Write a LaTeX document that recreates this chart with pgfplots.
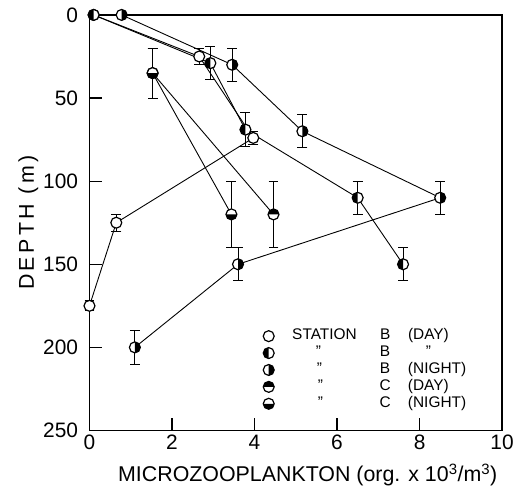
\documentclass[border=0pt]{standalone}
\usepackage{pgfplots}
\pgfplotsset{compat=1.18}
\usepackage{fontspec}
\setmainfont{Liberation Sans}

\newcommand\halfmark[2]{%
  \pgfpathcircle{\pgfpointorigin}{\pgfplotmarksize}%
  \pgfsetfillcolor{white}\pgfusepath{fill}%
  \pgfpathmoveto{\pgfpointpolar{#1}{\pgfplotmarksize}}%
  \pgfpatharc{#1}{#2}{\pgfplotmarksize}%
  \pgfpathclose
  \pgfsetfillcolor{black}\pgfusepath{fill}%
  \pgfpathcircle{\pgfpointorigin}{\pgfplotmarksize}%
  \pgfusepath{stroke}}
\pgfdeclareplotmark{opn}{%
  \pgfpathcircle{\pgfpointorigin}{\pgfplotmarksize}%
  \pgfsetfillcolor{white}\pgfusepath{fill,stroke}}
\pgfdeclareplotmark{hleft}{\halfmark{90}{270}}
\pgfdeclareplotmark{hright}{\halfmark{-90}{90}}
\pgfdeclareplotmark{htop}{\halfmark{0}{180}}
\pgfdeclareplotmark{hbot}{\halfmark{180}{360}}

\newcommand\lgrow[3]{\makebox[98pt][c]{#1}\makebox[24pt][c]{#2}\hspace{11pt}#3}

\begin{document}
\begin{tikzpicture}
\begin{axis}[
  name=main,
  scale only axis, width=415pt, height=418pt,
  xmin=0, xmax=10, ymin=0, ymax=250, y dir=reverse,
  xtick={0,2,...,10}, ytick={0,50,...,250},
  tick align=inside, xtick pos=bottom, ytick pos=left,
  major tick length=13pt,
  axis line style={line width=1.3pt},
  every tick/.style={line width=1.3pt, black},
  /pgf/number format/assume math mode=true,
  ticklabel style={font=\fontsize{21}{21}\selectfont},
  xticklabel style={yshift=-1pt},
  yticklabel style={xshift=-8pt},
  xlabel={MICROZOOPLANKTON (org. x 10\textsuperscript{3}/m\textsuperscript{3})},
  ylabel={\addfontfeature{LetterSpace=16}DEPTH (m)},
  label style={font=\fontsize{21.5}{22}\selectfont},
  xlabel style={xshift=12pt, yshift=-7pt},
  ylabel style={yshift=-2pt},
  clip=false,
  legend style={draw=none, fill=none, at={(0.412,0.252)}, anchor=north west,
    font=\fontsize{15.5}{15.5}\selectfont, row sep=0.5pt,
    nodes={inner sep=1pt, text height=11pt, text depth=3.5pt},
    /tikz/every even column/.append style={column sep=2pt}},
  legend cell align=left,
  error bars/error bar style={line width=1pt},
  error bars/error mark options={line width=1pt, mark size=5pt, rotate=90},
]
% lines and error bars
\addplot[black, line width=0.9pt, no marks, forget plot,
  error bars/.cd, y dir=both, y explicit] coordinates {
  (0.1,0) +- (0,0)
  (2.66,25) +- (0,5)
  (3.97,74) +- (0,4)
  (0.65,125) +- (0,5)
  (0,175) +- (0,3)
};
\addplot[black, line width=0.9pt, no marks, forget plot,
  error bars/.cd, y dir=both, y explicit] coordinates {
  (0.1,0) +- (0,0)
  (2.93,29) +- (0,10)
  (3.78,69) +- (0,10)
  (6.5,110) +- (0,10)
  (7.6,150) +- (0,10)
};
\addplot[black, line width=0.9pt, no marks, forget plot,
  error bars/.cd, y dir=both, y explicit] coordinates {
  (0.78,0) +- (0,0)
  (3.46,30) +- (0,10)
  (5.16,70) +- (0,10)
  (8.5,110) +- (0,10)
  (3.6,150) +- (0,10)
  (1.1,200) +- (0,10)
};
\addplot[black, line width=0.9pt, no marks, forget plot,
  error bars/.cd, y dir=both, y explicit] coordinates {
  (1.53,35) +- (0,15)
  (4.46,120) +- (0,20)
};
\addplot[black, line width=0.9pt, no marks, forget plot,
  error bars/.cd, y dir=both, y explicit] coordinates {
  (1.53,35) +- (0,15)
  (3.44,120) +- (0,20)
};
% markers
\addplot[only marks, mark=opn, mark size=5.5pt, mark options={line width=1.2pt}] coordinates {
  (0.1,0) (2.66,25) (3.97,74) (0.65,125) (0,175)};
\addlegendentry{\lgrow{STATION}{B}{(DAY)}}
\addplot[only marks, mark=hleft, mark size=5.5pt, mark options={line width=1.2pt}] coordinates {
  (0.1,0) (2.93,29) (3.78,69) (6.5,110) (7.6,150)};
\addlegendentry{\lgrow{\hspace{-12pt}"}{B}{\hspace{18pt}"}}
\addplot[only marks, mark=hright, mark size=5.5pt, mark options={line width=1.2pt}] coordinates {
  (0.78,0) (3.46,30) (5.16,70) (8.5,110) (3.6,150) (1.1,200)};
\addlegendentry{\lgrow{\hspace{-10pt}"}{B}{(NIGHT)}}
\addplot[only marks, mark=htop, mark size=5.5pt, mark options={line width=1.2pt}] coordinates {
  (1.53,35) (4.46,120)};
\addlegendentry{\lgrow{\hspace{-8pt}"}{C}{(DAY)}}
\addplot[only marks, mark=hbot, mark size=5.5pt, mark options={line width=1.2pt}] coordinates {
  (1.53,35) (3.44,120)};
\addlegendentry{\lgrow{\hspace{-8pt}"}{C}{(NIGHT)}}
\end{axis}
\path (main.north west) ++(-90pt,15pt);
\end{tikzpicture}
\end{document}
